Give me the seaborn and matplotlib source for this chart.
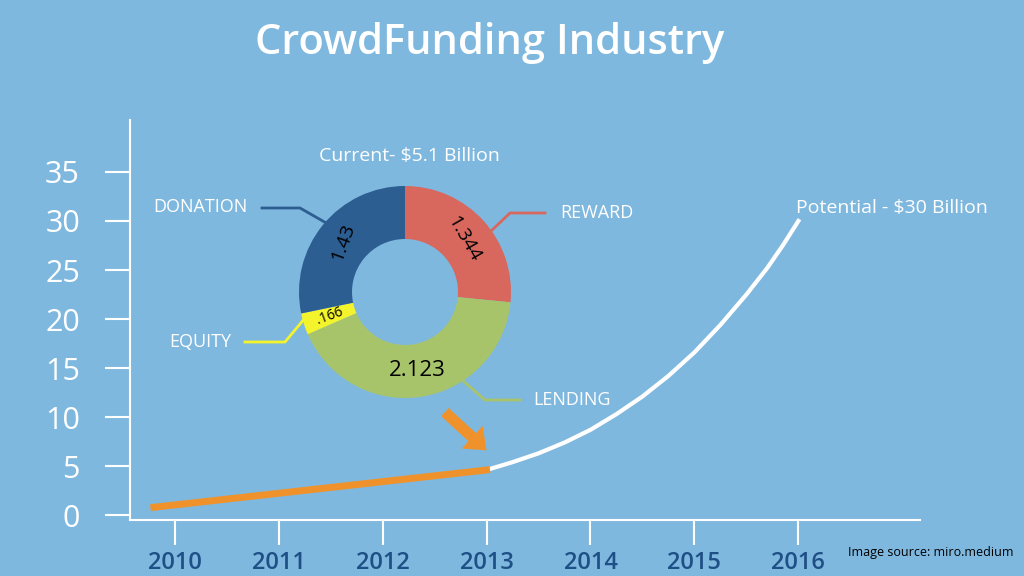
import numpy as np
import pandas as pd
import seaborn as sns
import matplotlib.pyplot as plt

plt.rcParams['font.family'] = 'Open Sans'

years = [2010, 2011, 2012, 2013, 2014, 2015, 2016]
y_ticks = [0, 5, 10, 15, 20, 25, 30, 35]
actual_year = [2009.8, 2013.0]
actual_val = [0.8, 4.6]
potential_year = [2013.0, 2013.25, 2013.5, 2013.75, 2014.0, 2014.25, 2014.5, 2014.75,
                  2015.0, 2015.25, 2015.5, 2015.7, 2015.85, 2016.0]
potential_val = [4.6, 5.4, 6.3, 7.4, 8.7, 10.3, 12.1, 14.2,
                 16.6, 19.4, 22.5, 25.2, 27.5, 30.0]

segments = ['REWARD', 'LENDING', 'EQUITY', 'DONATION']
seg_values = [1.344, 2.123, 0.166, 1.43]
seg_labels = ['1.344', '2.123', '.166', '1.43']
seg_colors = ['#d8675e', '#a8c46b', '#f4f42c', '#2c5e91']

bg = '#7fb8de'
fig = plt.figure(figsize=(10.24, 5.76), dpi=100, facecolor=bg)
ax = fig.add_axes([130/1024, 56/576, 790/1024, 400/576], facecolor=bg)

sns.lineplot(x=potential_year, y=potential_val, ax=ax, color='white', lw=3)
sns.lineplot(x=actual_year, y=actual_val, ax=ax, color='#f0922b', lw=5)
ax.set_xlim(2009.57, 2017.17)
ax.set_ylim(-0.5, 40.3)
for s in ['top', 'right']:
    ax.spines[s].set_visible(False)
for s in ['left', 'bottom']:
    ax.spines[s].set_color('white')
    ax.spines[s].set_linewidth(1.5)
ax.set_xticks(years)
ax.set_xticklabels([str(y) for y in years], fontsize=17, color='#1e4f86', fontweight='semibold')
ax.set_yticks(y_ticks)
ax.set_yticklabels([str(v) for v in y_ticks], fontsize=22, color='white')
ax.tick_params(axis='x', length=18, width=1.5, color='white', pad=4)
ax.tick_params(axis='y', length=18, width=1.5, color='white', pad=18)

ax.annotate('', xy=(2013.0, 6.6), xytext=(2012.6, 10.5),
            arrowprops=dict(facecolor='#f0922b', edgecolor='none', width=8, headwidth=22, headlength=14))
ax.text(2016.9, 30.8, 'Potential - $30 Billion', color='white', fontsize=14, ha='center')

fig.text(0.478, 0.925, 'CrowdFunding Industry', color='white', fontsize=30, ha='center', va='center',
         fontweight='semibold')
fig.text(0.4, 0.73, 'Current- $5.1 Billion', color='white', fontsize=14, ha='center', va='center')
fig.text(0.99, 0.04, 'Image source: miro.medium', color='black', fontsize=9, ha='right', va='center')

# donut
dax = fig.add_axes([(405-106)/1024, (576-292-106)/576, 212/1024, 212/576])
dax.pie(seg_values, colors=seg_colors, startangle=90, counterclock=False,
        wedgeprops=dict(width=0.5, edgecolor='none'))
dax.set_xlim(-1, 1)
dax.set_ylim(-1, 1)
dax.set_aspect('equal')
angles = 90 - np.cumsum([0] + seg_values[:-1]) * 360 / sum(seg_values) - np.array(seg_values) * 180 / sum(seg_values)
rots = [-60, 0, 20, 70]
sizes = [14, 16, 10, 14]
for a, lab, r, fs in zip(angles, seg_labels, rots, sizes):
    t = np.deg2rad(a)
    dax.text(0.75*np.cos(t), 0.75*np.sin(t), lab, ha='center', va='center', rotation=r, fontsize=fs, color='black')

fig.text(200/1024, 1-207/576, 'DONATION', color='white', fontsize=13, ha='center', va='center')
fig.text(597/1024, 1-213/576, 'REWARD', color='white', fontsize=13, ha='center', va='center')
fig.text(200/1024, 1-342/576, 'EQUITY', color='white', fontsize=13, ha='center', va='center')
fig.text(572/1024, 1-400/576, 'LENDING', color='white', fontsize=13, ha='center', va='center')
lines = [([262, 300, 335], [208, 208, 228], '#2c5e91'),
         ([545, 510, 490], [213, 213, 232], '#d8675e'),
         ([245, 285, 305], [342, 342, 318], '#f4f42c'),
         ([520, 485, 462], [400, 400, 380], '#a8c46b')]
for xs, ys, c in lines:
    fig.add_artist(plt.Line2D([x/1024 for x in xs], [1-y/576 for y in ys], color=c, lw=2))

fig.savefig('out.png', dpi=100, facecolor=bg)
